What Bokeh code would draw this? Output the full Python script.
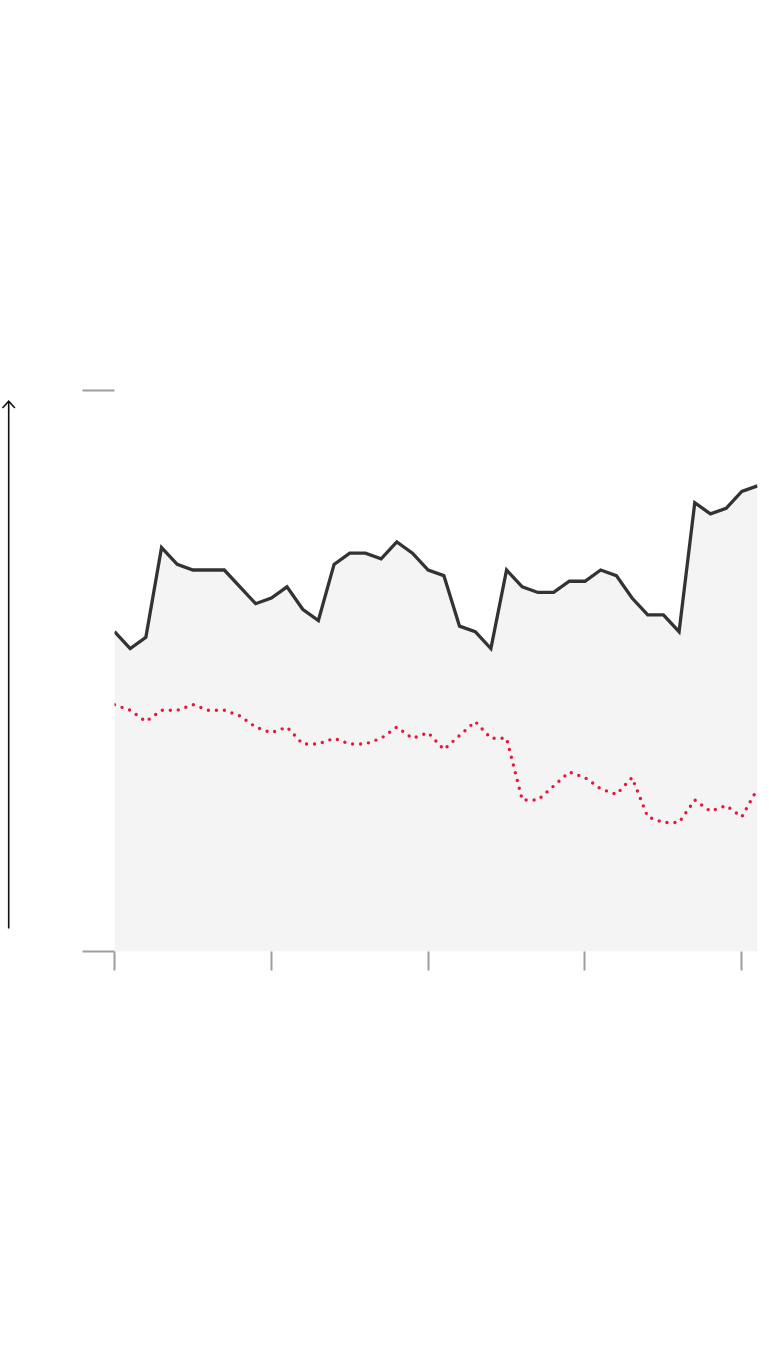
from bokeh.plotting import figure
from bokeh.layouts import row
from bokeh.models import Range1d, FixedTicker
from bokeh.embed import file_html
from bokeh.resources import INLINE

# ---- data ----
periods = list(range(42))
series_a = [57, 54, 56, 72, 69, 68, 68, 68, 65, 62, 63, 65, 61, 59, 69, 71, 71, 70, 73, 71,
            68, 67, 58, 57, 54, 68, 65, 64, 64, 66, 66, 68, 67, 63, 60, 60, 57, 80, 78, 79, 82, 83]
series_b = [44, 43, 41, 43, 43, 44, 43, 43, 42, 40, 39, 40, 37, 37, 38, 37, 37, 38, 40, 38,
            39, 36, 38.5, 41, 38, 38, 27, 27, 29.5, 32, 31, 29, 28, 31, 24, 23, 23, 27, 25, 26, 24, 29]
x_ticks = [0, 10, 20, 30, 40]
y_ticks = [0, 100]
baseline = [0] * len(periods)

TOP, FH, BOTTOM = 390, 561, 380
LEFT_W = 60

p = figure(
    frame_width=643, frame_height=FH,
    min_border_left=114 - LEFT_W, min_border_right=10, min_border_top=TOP, min_border_bottom=BOTTOM,
    x_range=Range1d(0, 41), y_range=Range1d(0, 100),
    output_backend="svg", toolbar_location=None,
)
p.outline_line_color = None
p.xgrid.grid_line_color = None
p.ygrid.grid_line_color = None

for ax, tout, ticks in ((p.xaxis, 19, x_ticks), (p.yaxis, 32, y_ticks)):
    ax.ticker = FixedTicker(ticks=ticks)
    ax.axis_line_color = None
    ax.major_tick_line_color = "#9e9e9e"
    ax.major_tick_line_width = 2
    ax.major_tick_out = tout
    ax.major_tick_in = 0
    ax.minor_tick_line_color = None
    ax.major_label_text_font_size = "0px"
    ax.major_label_text_color = None

p.varea(x=periods, y1=baseline, y2=series_a, fill_color="#f4f4f4")
p.line(periods, series_a, line_color="#333333", line_width=3.3, line_join="miter")
p.line(periods, series_b, line_color="#e5173d", line_width=3.4,
       line_dash="0 8", line_cap="round")

# narrow strip on the left holding the vertical arrow (page-pixel-like coordinates, y from top)
a = figure(
    frame_width=LEFT_W, frame_height=FH,
    min_border_left=0, min_border_right=0, min_border_top=TOP, min_border_bottom=BOTTOM,
    x_range=Range1d(0, LEFT_W), y_range=Range1d(TOP + FH, TOP),
    x_axis_location=None, y_axis_location=None,
    output_backend="svg", toolbar_location=None,
)
a.outline_line_color = None
a.xgrid.grid_line_color = None
a.ygrid.grid_line_color = None
a.line([8.2, 8.2], [928, 401], line_color="#111111", line_width=1.6)
a.line([2.0, 8.2, 14.4], [407.5, 400.8, 407.5], line_color="#111111", line_width=1.6,
       line_join="miter")

layout = row(a, p, spacing=0)
open("out.html", "w").write(file_html(layout, INLINE))
